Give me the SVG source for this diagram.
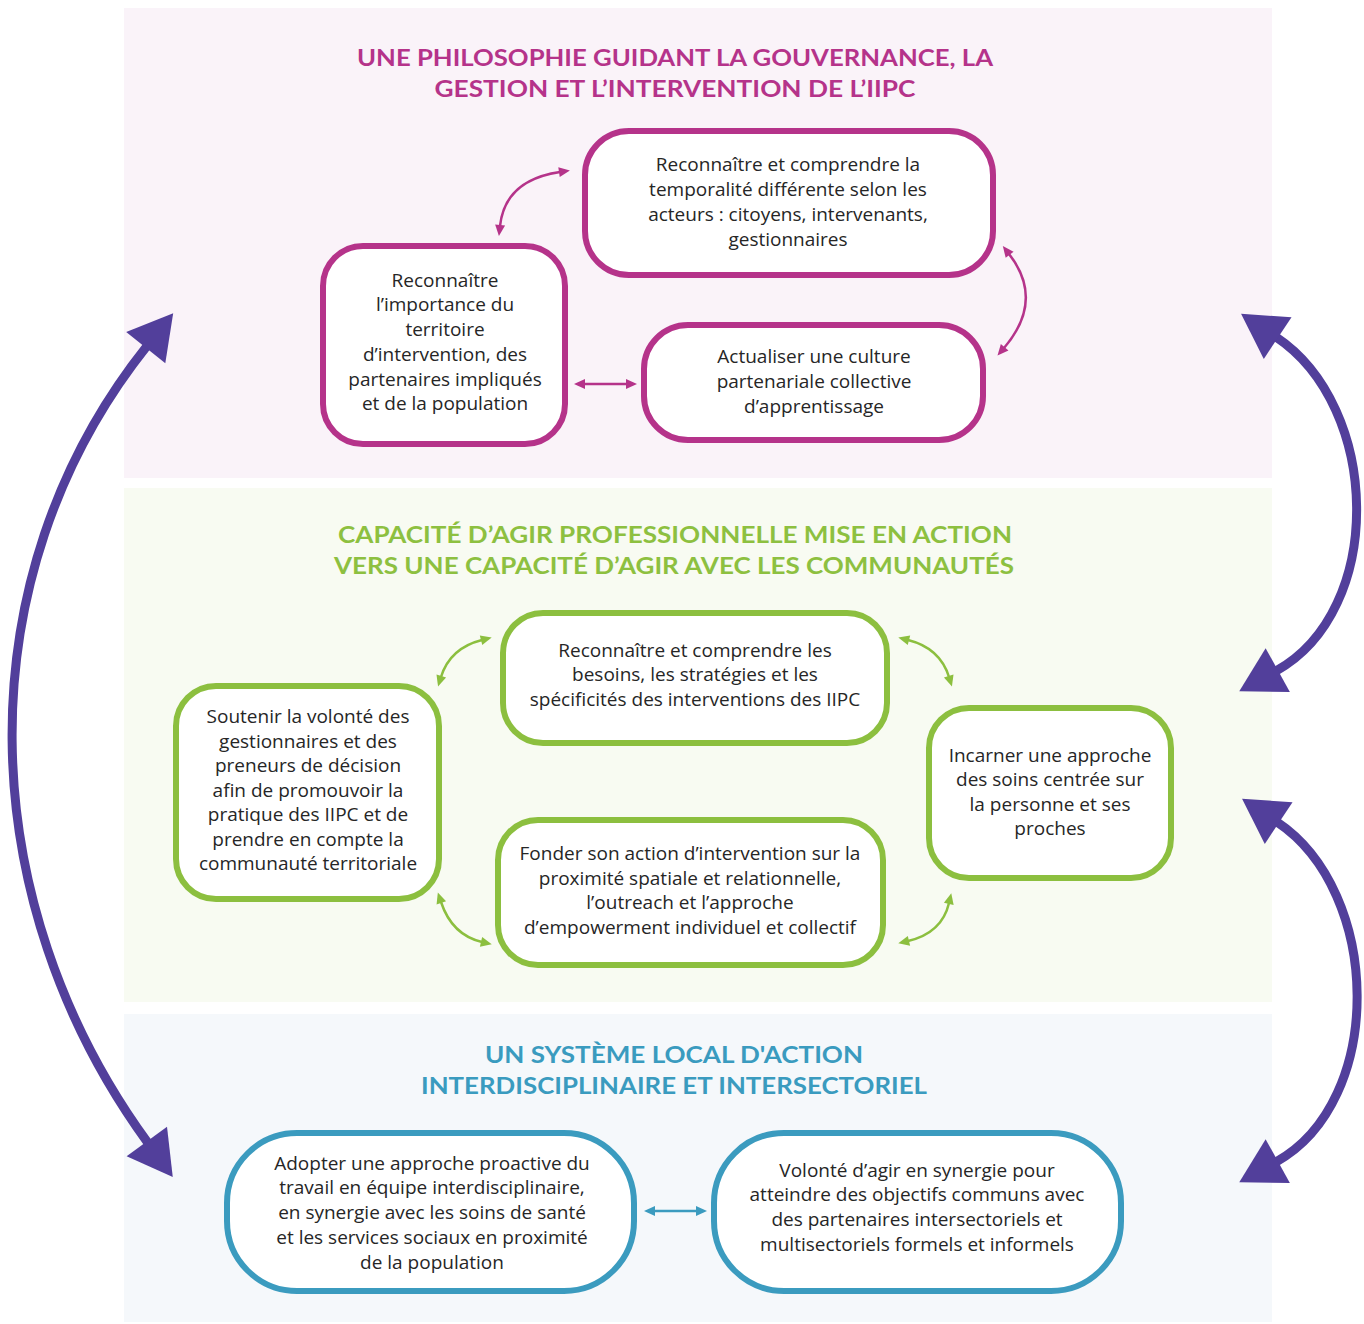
<svg xmlns="http://www.w3.org/2000/svg" width="1364" height="1324" viewBox="0 0 1364 1324">
<style>
.title{font-family:Lato,"Liberation Sans",sans-serif;font-weight:700;font-size:23px;text-anchor:middle}
.t1{fill:#b5338a}.t2{fill:#8dc040}.t3{fill:#3a9bbf}
.body{font-family:"Open Sans","Noto Sans",sans-serif;font-size:19px;fill:#262626;text-anchor:middle}
.box{fill:#ffffff;stroke-width:6}
.m{stroke:#b5338a}.g{stroke:#8cbf3f}.b{stroke:#3b9bbf}
.small{fill:none;stroke-width:2.5}
.big{fill:none;stroke:#523f9b;stroke-width:9}
</style>
<defs>
<marker id="mm" markerUnits="userSpaceOnUse" viewBox="-2 -6 14 12" refX="1" refY="0" markerWidth="14" markerHeight="12" orient="auto-start-reverse"><path d="M0,-5 L11,0 L0,5 Z" fill="#b5338a"/></marker>
<marker id="mg" markerUnits="userSpaceOnUse" viewBox="-2 -6 14 12" refX="1" refY="0" markerWidth="14" markerHeight="12" orient="auto-start-reverse"><path d="M0,-5 L11,0 L0,5 Z" fill="#8cbf3f"/></marker>
<marker id="mb" markerUnits="userSpaceOnUse" viewBox="-2 -6 14 12" refX="1" refY="0" markerWidth="14" markerHeight="12" orient="auto-start-reverse"><path d="M0,-5 L11,0 L0,5 Z" fill="#3b9bbf"/></marker>
<marker id="mp" markerUnits="userSpaceOnUse" viewBox="-2 -27 50 54" refX="2" refY="0" markerWidth="50" markerHeight="54" orient="auto-start-reverse"><path d="M0,-25 L44,0 L0,25 Z" fill="#523f9b"/></marker>
</defs>
<rect width="1364" height="1324" fill="#ffffff"/>
<g id="panels">
<rect x="124" y="8" width="1148" height="470" fill="#faf3f9"/>
<rect x="124" y="488" width="1148" height="514" fill="#f8fbf2"/>
<rect x="124" y="1014" width="1148" height="308" fill="#f5f8fb"/>
</g>
<g id="titles">
<text class="title t1" x="675" y="66" textLength="636" lengthAdjust="spacingAndGlyphs">UNE PHILOSOPHIE GUIDANT LA GOUVERNANCE, LA</text>
<text class="title t1" x="675" y="97" textLength="481" lengthAdjust="spacingAndGlyphs">GESTION ET L’INTERVENTION DE L’IIPC</text>
<text class="title t2" x="675" y="543" textLength="674" lengthAdjust="spacingAndGlyphs">CAPACITÉ D’AGIR PROFESSIONNELLE MISE EN ACTION</text>
<text class="title t2" x="674" y="574" textLength="680" lengthAdjust="spacingAndGlyphs">VERS UNE CAPACITÉ D’AGIR AVEC LES COMMUNAUTÉS</text>
<text class="title t3" x="674" y="1063" textLength="378" lengthAdjust="spacingAndGlyphs">UN SYSTÈME LOCAL D'ACTION</text>
<text class="title t3" x="674" y="1094" textLength="506" lengthAdjust="spacingAndGlyphs">INTERDISCIPLINAIRE ET INTERSECTORIEL</text>
</g>
<g id="connectors">
<path class="small" stroke="#b5338a" d="M500,226 Q505,180 560,172" marker-start="url(#mm)" marker-end="url(#mm)"/>
<path class="small" stroke="#b5338a" d="M1009,254 Q1045,300 1004,348" marker-start="url(#mm)" marker-end="url(#mm)"/>
<path class="small" stroke="#b5338a" d="M584,384 L627,384" marker-start="url(#mm)" marker-end="url(#mm)"/>
<path class="small" stroke="#8cbf3f" d="M441,677 Q450,648 482,640" marker-start="url(#mg)" marker-end="url(#mg)"/>
<path class="small" stroke="#8cbf3f" d="M908,640 Q940,648 949,677" marker-start="url(#mg)" marker-end="url(#mg)"/>
<path class="small" stroke="#8cbf3f" d="M441,902 Q452,935 482,942" marker-start="url(#mg)" marker-end="url(#mg)"/>
<path class="small" stroke="#8cbf3f" d="M908,941 Q942,933 949,903" marker-start="url(#mg)" marker-end="url(#mg)"/>
<path class="small" stroke="#3b9bbf" d="M654,1211 L697,1211" marker-start="url(#mb)" marker-end="url(#mb)"/>
<path class="big" d="M147,346 C-38,578 -28,902 148,1143" marker-start="url(#mp)" marker-end="url(#mp)"/>
<path class="big" d="M1276,337 C1381,407 1386,610 1276,671" marker-start="url(#mp)" marker-end="url(#mp)"/>
<path class="big" d="M1277,822 C1382,892 1386,1101 1276,1162" marker-start="url(#mp)" marker-end="url(#mp)"/>
</g>
<g id="node-temporalite">
<rect class="box m" x="585" y="131" width="408" height="144" rx="44"/>
<text class="body" x="788" y="171">Reconnaître et comprendre la</text>
<text class="body" x="788" y="196">temporalité différente selon les</text>
<text class="body" x="788" y="221">acteurs : citoyens, intervenants,</text>
<text class="body" x="788" y="246">gestionnaires</text>
</g>
<g id="node-territoire">
<rect class="box m" x="323" y="246" width="242" height="198" rx="40"/>
<text class="body" x="445" y="287">Reconnaître</text>
<text class="body" x="445" y="311">l’importance du</text>
<text class="body" x="445" y="336">territoire</text>
<text class="body" x="445" y="361">d’intervention, des</text>
<text class="body" x="445" y="386">partenaires impliqués</text>
<text class="body" x="445" y="410">et de la population</text>
</g>
<g id="node-culture">
<rect class="box m" x="644" y="325" width="339" height="115" rx="44"/>
<text class="body" x="814" y="363">Actualiser une culture</text>
<text class="body" x="814" y="388">partenariale collective</text>
<text class="body" x="814" y="413">d’apprentissage</text>
</g>
<g id="node-besoins">
<rect class="box g" x="503" y="613" width="384" height="130" rx="40"/>
<text class="body" x="695" y="657">Reconnaître et comprendre les</text>
<text class="body" x="695" y="681">besoins, les stratégies et les</text>
<text class="body" x="695" y="706">spécificités des interventions des IIPC</text>
</g>
<g id="node-soutenir">
<rect class="box g" x="176" y="686" width="263" height="213" rx="40"/>
<text class="body" x="308" y="723">Soutenir la volonté des</text>
<text class="body" x="308" y="748">gestionnaires et des</text>
<text class="body" x="308" y="772">preneurs de décision</text>
<text class="body" x="308" y="797">afin de promouvoir la</text>
<text class="body" x="308" y="821">pratique des IIPC et de</text>
<text class="body" x="308" y="846">prendre en compte la</text>
<text class="body" x="308" y="870">communauté territoriale</text>
</g>
<g id="node-fonder">
<rect class="box g" x="498" y="820" width="385" height="145" rx="40"/>
<text class="body" x="690" y="860">Fonder son action d’intervention sur la</text>
<text class="body" x="690" y="885">proximité spatiale et relationnelle,</text>
<text class="body" x="690" y="909">l’outreach et l’approche</text>
<text class="body" x="690" y="934">d’empowerment individuel et collectif</text>
</g>
<g id="node-incarner">
<rect class="box g" x="929" y="708" width="242" height="170" rx="40"/>
<text class="body" x="1050" y="762">Incarner une approche</text>
<text class="body" x="1050" y="786">des soins centrée sur</text>
<text class="body" x="1050" y="811">la personne et ses</text>
<text class="body" x="1050" y="835">proches</text>
</g>
<g id="node-adopter">
<rect class="box b" x="227" y="1133" width="407" height="158" rx="70"/>
<text class="body" x="432" y="1170">Adopter une approche proactive du</text>
<text class="body" x="432" y="1194">travail en équipe interdisciplinaire,</text>
<text class="body" x="432" y="1219">en synergie avec les soins de santé</text>
<text class="body" x="432" y="1244">et les services sociaux en proximité</text>
<text class="body" x="432" y="1269">de la population</text>
</g>
<g id="node-volonte">
<rect class="box b" x="714" y="1133" width="407" height="158" rx="70"/>
<text class="body" x="917" y="1177">Volonté d’agir en synergie pour</text>
<text class="body" x="917" y="1201">atteindre des objectifs communs avec</text>
<text class="body" x="917" y="1226">des partenaires intersectoriels et</text>
<text class="body" x="917" y="1251">multisectoriels formels et informels</text>
</g>
</svg>
